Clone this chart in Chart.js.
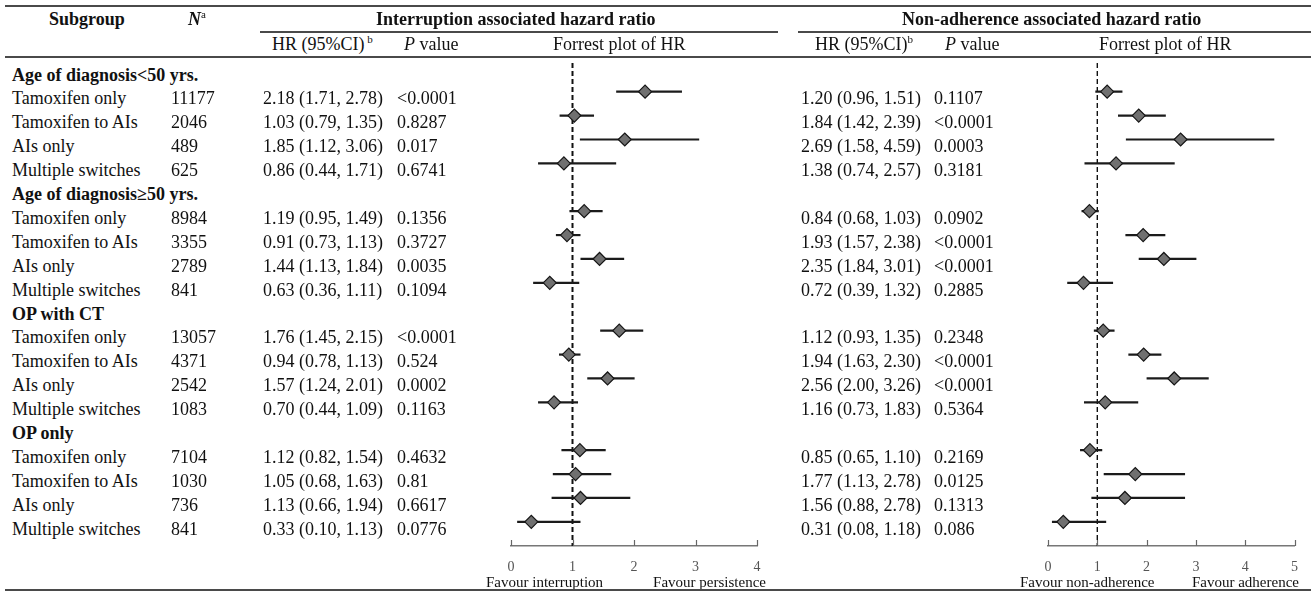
<!DOCTYPE html>
<html>
<head>
<meta charset="utf-8">
<script src="https://cdn.jsdelivr.net/npm/chart.js@4.4.0/dist/chart.umd.min.js"></script>
<style>
  body { margin: 0; background: #fff; }
  #wrap { position: relative; width: 1311px; height: 592px; overflow: hidden;
          font-family: 'Liberation Serif', 'Times New Roman', serif; font-size: 18px; color: #111; }
  .t { position: absolute; white-space: nowrap; line-height: 20px; }
  .b { font-weight: bold; }
  .sm { font-size: 15px; }
  .rule { position: absolute; background: #4a4a4a; }
  sup { font-size: 11px; vertical-align: 7px; line-height: 0; }
  canvas { position: absolute; top: 0; }
</style>
</head>
<body>
<div id="wrap">
  <canvas id="leftPlot" width="300" height="592" style="left:480px"></canvas>
  <canvas id="rightPlot" width="311" height="592" style="left:1000px"></canvas>
</div>
<script>
// groups and subgroups (rows of the table)
var groups = ['Age of diagnosis<50 yrs.', 'Age of diagnosis\u226550 yrs.', 'OP with CT', 'OP only'];
var subgroups = ['Tamoxifen only', 'Tamoxifen to AIs', 'AIs only', 'Multiple switches'];
var nValues = [11177, 2046, 489, 625, 8984, 3355, 2789, 841, 13057, 4371, 2542, 1083, 7104, 1030, 736, 841];

// interruption associated hazard ratio
var intHR = [2.18, 1.03, 1.85, 0.86, 1.19, 0.91, 1.44, 0.63, 1.76, 0.94, 1.57, 0.70, 1.12, 1.05, 1.13, 0.33];
var intLo = [1.71, 0.79, 1.12, 0.44, 0.95, 0.73, 1.13, 0.36, 1.45, 0.78, 1.24, 0.44, 0.82, 0.68, 0.66, 0.10];
var intHi = [2.78, 1.35, 3.06, 1.71, 1.49, 1.13, 1.84, 1.11, 2.15, 1.13, 2.01, 1.09, 1.54, 1.63, 1.94, 1.13];
var intP = ['<0.0001', '0.8287', '0.017', '0.6741', '0.1356', '0.3727', '0.0035', '0.1094',
            '<0.0001', '0.524', '0.0002', '0.1163', '0.4632', '0.81', '0.6617', '0.0776'];

// non-adherence associated hazard ratio
var nonHR = [1.20, 1.84, 2.69, 1.38, 0.84, 1.93, 2.35, 0.72, 1.12, 1.94, 2.56, 1.16, 0.85, 1.77, 1.56, 0.31];
var nonLo = [0.96, 1.42, 1.58, 0.74, 0.68, 1.57, 1.84, 0.39, 0.93, 1.63, 2.00, 0.73, 0.65, 1.13, 0.88, 0.08];
var nonHi = [1.51, 2.39, 4.59, 2.57, 1.03, 2.38, 3.01, 1.32, 1.35, 2.30, 3.26, 1.83, 1.10, 2.78, 2.78, 1.18];
var nonP = ['0.1107', '<0.0001', '0.0003', '0.3181', '0.0902', '<0.0001', '<0.0001', '0.2885',
            '0.2348', '<0.0001', '<0.0001', '0.5364', '0.2169', '0.0125', '0.1313', '0.086'];

var intTicks = [0, 1, 2, 3, 4];
var nonTicks = [0, 1, 2, 3, 4, 5];

var wrap = document.getElementById('wrap');

function addText(html, x, yc, cls, align) {
    var d = document.createElement('div');
    d.className = 't ' + (cls || '');
    d.innerHTML = html;
    d.style.top = (yc - 10) + 'px';
    if (align === 'right') d.style.right = (1311 - x) + 'px';
    else d.style.left = x + 'px';
    wrap.appendChild(d);
}
function addRule(x, y, w, h) {
    var d = document.createElement('div');
    d.className = 'rule';
    d.style.left = x + 'px'; d.style.top = y + 'px';
    d.style.width = w + 'px'; d.style.height = h + 'px';
    wrap.appendChild(d);
}
function esc(s) { return s.replace(/</g, '&lt;'); }
function ci(h, l, u) { return h.toFixed(2) + ' (' + l.toFixed(2) + ', ' + u.toFixed(2) + ')'; }
function rowOf(k) { return Math.floor(k / 4) * 5 + 1 + (k % 4); }
function textY(row) { return 74.5 + 23.9 * row; }

// header
addRule(5, 5, 1306, 2);
addText('Subgroup', 49, 19, 'b');
addText('<i>N</i><span style="font-weight:normal"><sup>a</sup></span>', 188, 19, 'b');
addText('Interruption associated hazard ratio', 376, 19, 'b');
addText('Non-adherence associated hazard ratio', 902, 19, 'b');
addRule(260, 31, 518, 1.5);
addRule(798, 31, 513, 1.5);
addText('HR (95%CI)<sup> b</sup>', 272, 44);
addText('<i>P</i> value', 404, 44);
addText('Forrest plot of HR', 553, 44);
addText('HR (95%CI)<sup>b</sup>', 815, 44);
addText('<i>P</i> value', 945, 44);
addText('Forrest plot of HR', 1099, 44);
addRule(5, 56, 1306, 1.5);

// body rows
groups.forEach(function(g, gi) { addText(esc(g), 12, textY(gi * 5), 'b'); });
nValues.forEach(function(n, k) {
    var r = rowOf(k), y = textY(r);
    addText(subgroups[k % 4], 12, y);
    addText(String(n), 171, y);
    addText(ci(intHR[k], intLo[k], intHi[k]), 263, y);
    addText(esc(intP[k]), 397, y);
    addText(ci(nonHR[k], nonLo[k], nonHi[k]), 801, y);
    addText(esc(nonP[k]), 934, y);
});

// footer
addText('Favour interruption', 486, 582, 'sm');
addText('Favour persistence', 766, 582, 'sm', 'right');
addText('Favour non-adherence', 1020, 582, 'sm');
addText('Favour adherence', 1299, 582, 'sm', 'right');
addRule(5, 589, 1306, 2);

// upward tick marks on the x axis
var upTicks = {
    id: 'upTicks',
    afterDraw: function(chart) {
        var sx = chart.scales.x, ctx = chart.ctx, b = chart.chartArea.bottom;
        ctx.save();
        ctx.strokeStyle = '#666';
        ctx.lineWidth = 1.2;
        sx.ticks.forEach(function(t) {
            var px = Math.round(sx.getPixelForValue(t.value)) + 0.5;
            ctx.beginPath(); ctx.moveTo(px, b); ctx.lineTo(px, b - 6); ctx.stroke();
        });
        ctx.restore();
    }
};

function forest(id, hr, lo, hi, ticks, padL, padR, dashW) {
    var ds = [{
        data: hr.map(function(v, k) { return { x: v, y: rowOf(k) }; }),
        pointStyle: 'rectRot', pointRadius: 6.5, pointHoverRadius: 6.5,
        backgroundColor: '#707070', borderColor: '#151515', borderWidth: 1.2,
        order: 0
    }];
    hr.forEach(function(v, k) {
        ds.push({
            data: [{ x: lo[k], y: rowOf(k) }, { x: hi[k], y: rowOf(k) }],
            showLine: true, pointRadius: 0, borderColor: '#1b1b1b', borderWidth: 2.2,
            order: 1
        });
    });
    ds.push({
        data: [{ x: 1, y: -0.2 }, { x: 1, y: 20.01 }],
        showLine: true, pointRadius: 0, borderColor: '#111', borderWidth: dashW,
        borderDash: [5, 3], order: 2
    });

    new Chart(document.getElementById(id).getContext('2d'), {
        type: 'scatter',
        data: { datasets: ds },
        options: {
            responsive: false,
            animation: false,
            devicePixelRatio: 1,
            layout: { padding: { left: padL, right: padR, top: 63, bottom: 0 } },
            plugins: { legend: { display: false }, tooltip: { enabled: false } },
            scales: {
                x: {
                    type: 'linear', min: ticks[0], max: ticks[ticks.length - 1],
                    afterBuildTicks: function(s) { s.ticks = ticks.map(function(v) { return { value: v }; }); },
                    afterFit: function(s) { s.height = 46; },
                    grid: { display: false, drawTicks: false },
                    border: { display: true, color: '#777', width: 1.5 },
                    ticks: { color: '#555', padding: 13, font: { family: 'Liberation Serif', size: 14 } }
                },
                y: { type: 'linear', min: -0.2, max: 20.01, reverse: true, display: false }
            }
        },
        plugins: [upTicks]
    });
}

forest('leftPlot', intHR, intLo, intHi, intTicks, 31, 23, 2);
forest('rightPlot', nonHR, nonLo, nonHi, nonTicks, 48, 14, 1.4);
</script>
</body>
</html>
